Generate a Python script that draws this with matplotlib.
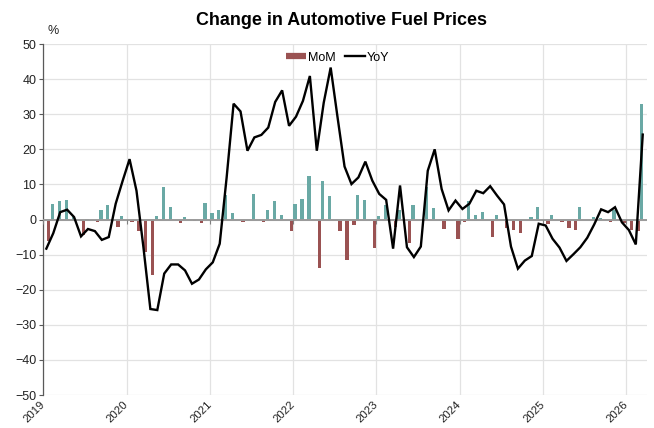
import matplotlib
matplotlib.use('Agg')
import matplotlib.pyplot as plt
from matplotlib.lines import Line2D
import numpy as np
import pandas as pd

plt.rcParams['font.family'] = ['Liberation Sans', 'DejaVu Sans']

# Monthly categories: Jan 2019 .. Mar 2026
months = pd.date_range('2019-01-01', '2026-03-01', freq='MS').strftime('%Y-%m').tolist()

mom = [-6.0, 4.3, 5.3, 5.6, 0.7, -4.5, 0.2, -0.8, 2.8, 4.0, -2.0, 1.1,
       -0.7, -3.3, -9.3, -15.9, 0.9, 9.2, 3.7, -1.0, 0.7, -0.3, -1.0, 4.7,
       1.8, 2.6, 6.9, 1.8, -0.8, -0.2, 7.2, -0.6, 2.6, 5.4, 1.3, -3.3,
       4.3, 5.9, 12.5, -13.7, 10.9, 6.8, -3.3, -11.6, -1.7, 7.1, 5.6, -8.0,
       1.0, 4.2, -2.2, 2.8, -6.7, 4.0, 0.0, 9.2, 3.3, -2.8, -0.5, -5.5,
       -0.8, 5.2, 1.4, 2.2, -5.0, 1.2, -2.5, -2.9, -3.9, 0.0, 0.8, 3.7,
       -1.4, 1.3, -0.8, -2.5, -2.9, 3.6, 0.0, 0.6, 0.3, -0.8, 2.8, -0.9,
       -3.0, -3.2, 32.9]

yoy = [-8.3, -3.9, 2.1, 2.8, 0.7, -4.8, -2.7, -3.3, -5.8, -5.0, 4.5, 11.0,
       17.2, 8.2, -7.9, -25.5, -25.8, -15.4, -12.8, -12.8, -14.5, -18.3, -17.1, -14.2,
       -12.2, -6.9, 12.0, 33.0, 30.8, 19.6, 23.4, 24.1, 26.2, 33.5, 36.8, 26.7,
       29.3, 33.8, 40.9, 19.6, 33.3, 43.3, 29.0, 15.1, 10.1, 12.0, 16.5, 11.1,
       7.3, 5.6, -8.3, 9.7, -7.9, -10.7, -7.7, 13.9, 20.0, 8.7, 2.6, 5.4,
       3.0, 4.5, 8.2, 7.5, 9.5, 6.8, 4.3, -7.7, -14.0, -11.7, -10.4, -1.2,
       -1.7, -5.5, -8.0, -11.8, -9.9, -7.9, -5.2, -1.4, 2.9, 2.1, 3.5, -0.8,
       -3.0, -7.1, 24.2]

year_labels = ['2019', '2020', '2021', '2022', '2023', '2024', '2025', '2026']

TEAL = '#6aa9a5'
MAROON = '#9a5252'

fig = plt.figure(figsize=(6.54, 4.28), dpi=100)
ax = fig.add_axes([0.0664, 0.0771, 0.9236, 0.8200])

idx = np.arange(len(months))
mom_a = np.array(mom)
pos = mom_a >= 0
ax.bar(idx[pos] + 0.29, mom_a[pos], width=0.47, color=TEAL, zorder=2, linewidth=0)
ax.bar(idx[~pos] + 0.77, mom_a[~pos], width=0.47, color=MAROON, zorder=2, linewidth=0)
ax.plot(idx + 0.42, yoy, color='black', lw=1.7, zorder=4, solid_joinstyle='miter')
ax.axhline(0, color='#9a9a9a', lw=1.4, zorder=3)

year_pos = [months.index(y + '-01') for y in year_labels]
ax.vlines(year_pos, -1.2, 0, color='#7f7f7f', lw=0.8, zorder=3)

ax.set_xlim(0, 87.1)
ax.set_ylim(-50, 50)
ax.set_yticks(range(-50, 51, 10))
ax.set_xticks(year_pos)
ax.set_xticklabels(year_labels, rotation=45, ha='right', va='center', rotation_mode='anchor')
ax.grid(True, color='#e2e2e2', lw=0.9, zorder=0)
ax.set_axisbelow(True)

for s in ['top', 'right', 'bottom']:
    ax.spines[s].set_visible(False)
ax.spines['left'].set_color('#595959')
ax.spines['left'].set_linewidth(0.9)
ax.tick_params(axis='y', length=3, color='#595959', labelsize=9, pad=2, labelcolor='#222222')
ax.tick_params(axis='x', length=0, labelsize=8.2, pad=6, labelcolor='#222222')

handles = [Line2D([], [], color=MAROON, lw=4.5, solid_capstyle='butt'),
           Line2D([], [], color='black', lw=1.7)]
ax.legend(handles, ['MoM', 'YoY'], loc='upper center', bbox_to_anchor=(0.487, 1.01),
          ncol=2, frameon=False, fontsize=9, handlelength=1.6, handletextpad=0.2,
          columnspacing=0.7)

fig.text(0.522, 0.952, 'Change in Automotive Fuel Prices', ha='center', va='center',
         fontsize=12.9, fontweight='bold', color='black')
fig.text(48 / 654, 1 - 31 / 428, '%', ha='left', va='center', fontsize=9, color='#222222')

fig.savefig('out.png', dpi=100)
